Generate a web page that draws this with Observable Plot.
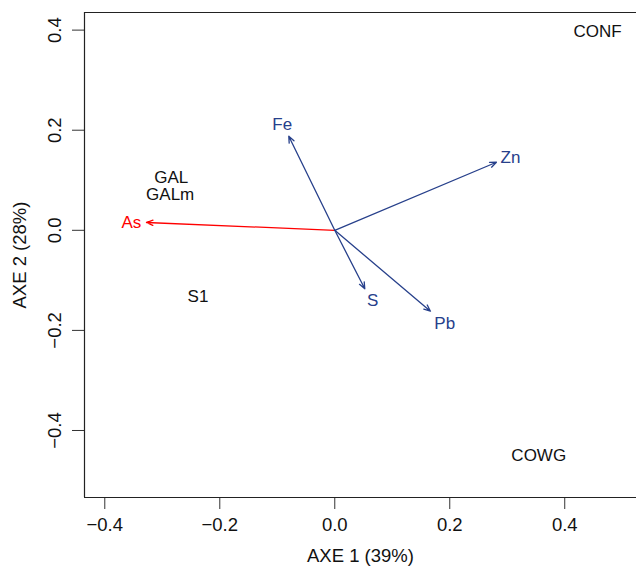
<!DOCTYPE html>
<html>
<head>
<meta charset="utf-8">
<script src="https://cdn.jsdelivr.net/npm/d3@7"></script>
<script src="https://cdn.jsdelivr.net/npm/@observablehq/plot@0.6"></script>
<style>
  html, body { margin: 0; padding: 0; background: #fff; overflow: hidden; }
</style>
</head>
<body>
<div id="chart"></div>
<script>
// Variables (arrows)
const varNames = ["As", "Fe", "Zn", "S", "Pb"];
const varX = [-0.3275, -0.080, 0.2812, 0.0522, 0.1664];
const varY = [0.0156, 0.188, 0.136, -0.1169, -0.1616];
const varLabelX = [-0.3537, -0.0915, 0.3056, 0.0661, 0.1913];
const varLabelY = [0.0156, 0.2114, 0.1449, -0.1403, -0.1856];
const varColors = ["#ff0000", "#27408b", "#27408b", "#27408b", "#27408b"];

// Sites (text labels)
const siteNames = ["GAL", "GALm", "S1", "CONF", "COWG"];
const siteX = [-0.2845, -0.2863, -0.2379, 0.4569, 0.3548];
const siteY = [0.1055, 0.0715, -0.1333, 0.3968, -0.45];

// Axes
const xTicks = [-0.4, -0.2, 0.0, 0.2, 0.4];
const yTicks = [-0.4, -0.2, 0.0, 0.2, 0.4];
const xDomain = [-0.4353, 0.5248];
const yDomain = [-0.5339, 0.4352];
const xTitle = "AXE 1 (39%)";
const yTitle = "AXE 2 (28%)";

const vars = varNames.map((n, i) => ({name: n, x: varX[i], y: varY[i], lx: varLabelX[i], ly: varLabelY[i], color: varColors[i]}));
const sites = siteNames.map((n, i) => ({name: n, x: siteX[i], y: siteY[i]}));

const fontFamily = "'Liberation Sans', Arial, Helvetica, sans-serif";

const chart = Plot.plot({
  width: 636,
  height: 570,
  marginLeft: 84,
  marginRight: 0,
  marginTop: 12,
  marginBottom: 73,
  style: {fontFamily, fontSize: "18.5px", color: "#000", background: "#fff"},
  x: {domain: xDomain},
  y: {domain: yDomain},
  marks: [
    Plot.axisX({
      ticks: xTicks, tickSize: 12, tickPadding: 8, tickFormat: d3.format(".1f"),
      stroke: "#333", fill: "#111",
      label: xTitle, labelAnchor: "center", labelOffset: 64, labelArrow: "none"
    }),
    Plot.axisY({
      ticks: yTicks, tickSize: 12, tickPadding: 12, tickRotate: -90, tickFormat: d3.format(".1f"),
      stroke: "#333", fill: "#111",
      label: yTitle, labelAnchor: "center", labelOffset: 72, labelArrow: "none"
    }),
    Plot.ruleX([xDomain[0]], {stroke: "#222", strokeWidth: 1.2}),
    Plot.ruleY([yDomain[0], yDomain[1]], {stroke: "#222", strokeWidth: 1.2}),
    Plot.arrow(vars, {
      x1: () => 0, y1: () => 0, x2: "x", y2: "y",
      stroke: d => d.color, strokeWidth: 1.3, headLength: 8, headAngle: 45
    }),
    Plot.text(vars, {x: "lx", y: "ly", text: "name", fill: d => d.color, fontSize: 17}),
    Plot.text(sites, {x: "x", y: "y", text: "name", fill: "#111", fontSize: 17})
  ]
});
document.getElementById("chart").appendChild(chart);
</script>
</body>
</html>
